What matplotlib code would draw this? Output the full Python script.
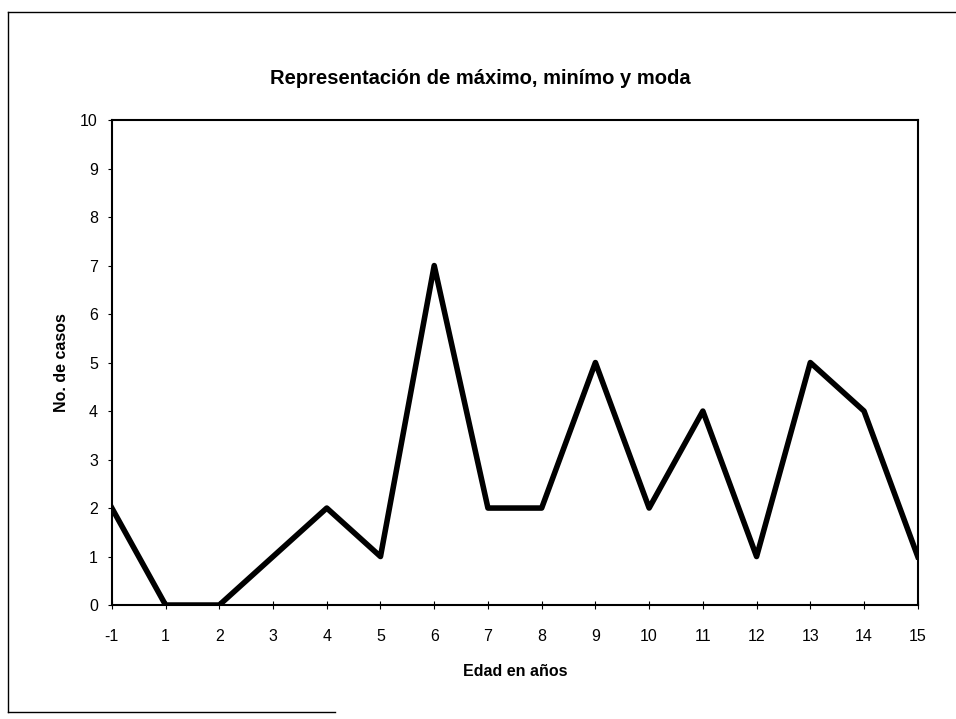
import matplotlib
matplotlib.use("Agg")
import matplotlib.pyplot as plt
from matplotlib.lines import Line2D

plt.rcParams['font.family'] = ['Liberation Sans', 'DejaVu Sans']

# datos
edades = ["-1", "1", "2", "3", "4", "5", "6", "7", "8", "9", "10", "11", "12", "13", "14", "15"]
casos = [2, 0, 0, 1, 2, 1, 7, 2, 2, 5, 2, 4, 1, 5, 4, 1]

fig = plt.figure(figsize=(9.56, 7.19), dpi=100)
ax = fig.add_axes([0.117, 0.1585, 0.843, 0.6745])

pos = list(range(len(edades)))
ax.plot(pos, casos, color="black", linewidth=4, solid_joinstyle="round")

ax.set_xlim(0, len(edades) - 1)
ax.set_ylim(0, 10)
ax.set_xticks(pos)
ax.set_xticklabels(edades)
ax.set_yticks(range(0, 11))
ax.tick_params(axis="x", direction="inout", length=6, width=0.8, labelsize=11.5, pad=14)
ax.tick_params(axis="y", direction="out", length=3, width=0.8, labelsize=11.5, pad=7)
for s in ax.spines.values():
    s.set_linewidth(1.5)

ax.set_xlabel("Edad en años", fontsize=11.5, fontweight="bold", labelpad=15)
ax.set_ylabel("No. de casos", fontsize=11.5, fontweight="bold", labelpad=8)
fig.text(0.502, 0.891, "Representación de máximo, minímo y moda",
         ha="center", va="center", fontsize=14.5, fontweight="bold")

# marco exterior
fig.add_artist(Line2D([0.008, 0.008], [0.01, 0.983], color="black", lw=1, transform=fig.transFigure))
fig.add_artist(Line2D([0.008, 1.0], [0.983, 0.983], color="black", lw=1, transform=fig.transFigure))
fig.add_artist(Line2D([0.008, 0.35], [0.01, 0.01], color="black", lw=1, transform=fig.transFigure))

fig.savefig("out.png", dpi=100)
